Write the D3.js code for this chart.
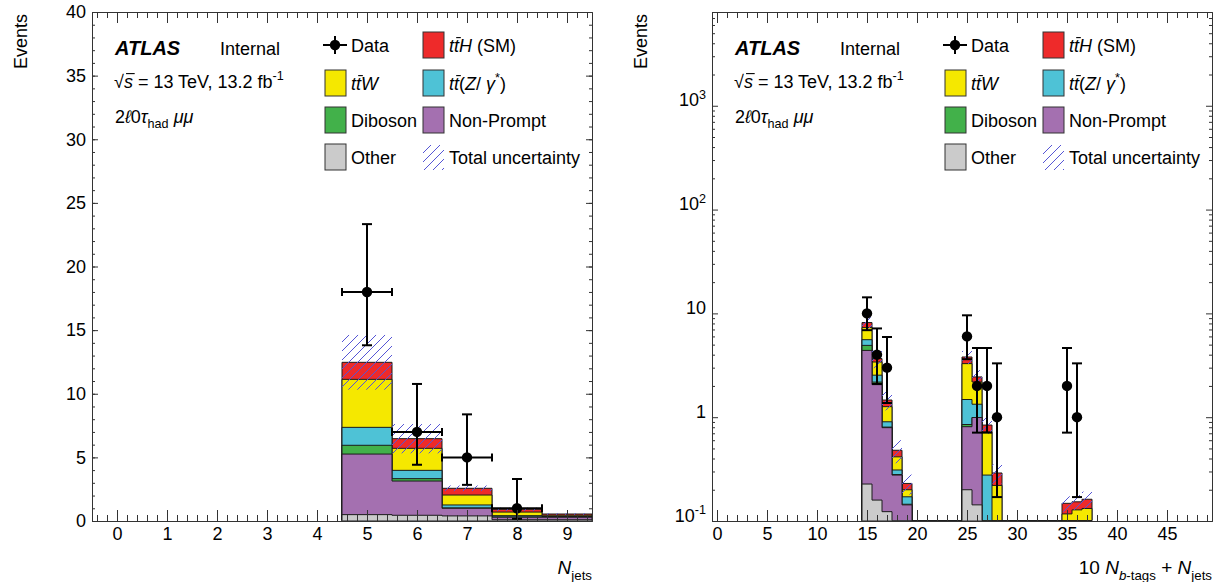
<!DOCTYPE html>
<html>
<head>
<meta charset="utf-8">
<script src="https://cdn.jsdelivr.net/npm/d3@7"></script>
<style>
  body { margin: 0; background: #fff; }
  text { font-family: "Liberation Sans", Arial, Helvetica, sans-serif; fill: #000; }
</style>
</head>
<body>
<svg id="chart" width="1221" height="582"></svg>
<script>
// ---- data ----
var layerKeys = ['other', 'nonPrompt', 'diboson', 'ttZ', 'ttW', 'ttH'];

// left: N_jets
var jetBins      = [5, 6, 7, 8, 9];
var jetOther     = [0.5, 0.45, 0.4, 0.1, 0.1];
var jetNonPrompt = [4.76, 2.69, 0.6, 0.2, 0.2];
var jetDiboson   = [0.69, 0.19, 0.03, 0.02, 0.0];
var jetTtZ       = [1.41, 0.65, 0.23, 0.1, 0.05];
var jetTtW       = [3.77, 1.73, 0.78, 0.28, 0.1];
var jetTtH       = [1.34, 0.76, 0.53, 0.22, 0.1];
var jetUnc       = [2.15, 1.15, 0.22, 0.13, 0.06];
var jetDataBins  = [5, 6, 7, 8];
var jetData      = [18, 7, 5, 1];
var jetDataLo    = [13.81, 4.42, 2.84, 0.17];
var jetDataHi    = [23.33, 10.77, 8.38, 3.30];
var jetXTicks    = [0, 1, 2, 3, 4, 5, 6, 7, 8, 9];
var jetYTicks    = [0, 5, 10, 15, 20, 25, 30, 35, 40];

// right: 10 N_btags + N_jets
var comboBins      = [15, 16, 17, 18, 19, 25, 26, 27, 28, 35, 36, 37];
var comboOther     = [0.227, 0.159, 0.123, 0.05, 0.03, 0.2, 0.143, 0.02, 0.01, 0.005, 0.005, 0.005];
var comboNonPrompt = [4.17, 1.9, 0.67, 0.227, 0.113, 0.61, 0.85, 0.03, 0.02, 0.015, 0.015, 0.015];
var comboDiboson   = [0.52, 0.12, 0.01, 0.003, 0.002, 0.04, 0, 0, 0, 0, 0, 0];
var comboTtZ       = [0.66, 0.36, 0.1, 0.03, 0.026, 0.63, 0.34, 0.227, 0.02, 0.01, 0.01, 0.01];
var comboTtW       = [1.72, 0.86, 0.36, 0.105, 0.029, 1.8, 0.85, 0.443, 0.17, 0.087, 0.098, 0.102];
var comboTtH       = [0.86, 0.27, 0.2, 0.065, 0.03, 0.52, 0.26, 0.12, 0.07, 0.031, 0.025, 0.03];
var comboUnc       = [1.0, 0.7, 0.3, 0.12, 0.05, 0.55, 0.4, 0.15, 0.06, 0.025, 0.025, 0.03];
var comboDataBins  = [15, 16, 17, 25, 26, 27, 28, 35, 36];
var comboData      = [10, 4, 3, 6, 2, 2, 1, 2, 1];
var comboDataLo    = [6.89, 2.09, 1.37, 3.62, 0.71, 0.71, 0.17, 0.71, 0.17];
var comboDataHi    = [14.27, 7.16, 5.92, 9.58, 4.64, 4.64, 3.30, 4.64, 3.30];
var comboXTicks    = [0, 5, 10, 15, 20, 25, 30, 35, 40, 45];
var logYTicks      = [0.1, 1, 10, 100, 1000];
var logYLabels     = ['10^-1', '1', '10', '10^2', '10^3'];

var colors = { other: '#cbcbcb', nonPrompt: '#a470b0', diboson: '#42b14a', ttZ: '#4ec2d6', ttW: '#f5e800', ttH: '#ee2a2a' };

var svg = d3.select('#chart');
var defs = svg.append('defs');
svg.insert('rect', 'defs').attr('width', 1221).attr('height', 582).attr('fill', '#fff');

var pat = defs.append('pattern').attr('id', 'hatch')
    .attr('patternUnits', 'userSpaceOnUse').attr('width', 9).attr('height', 9);
pat.append('path').attr('d', 'M-1,1 L1,-1 M0,9 L9,0 M8,10 L10,8')
    .attr('stroke', '#5555d5').attr('stroke-width', 1).attr('fill', 'none');

// small rich-text helper: segments [text, flags]; flags: i=italic, o=overline, sub, sup
function rich(sel, segs, size) {
    var shift = 0, idx = 0, overs = [];
    segs.forEach(function(s) {
        var f = s[1] || '';
        var target = f.indexOf('sub') >= 0 ? size * 0.3 : (f.indexOf('sup') >= 0 ? -size * 0.42 : 0);
        var ts = sel.append('tspan').text(s[0]).attr('dy', target - shift);
        shift = target;
        if (f.indexOf('i') >= 0) ts.style('font-style', 'italic');
        if (f.indexOf('sub') >= 0 || f.indexOf('sup') >= 0) ts.style('font-size', (size * 0.7) + 'px');
        if (f.indexOf('o') >= 0) overs.push({ i: idx, n: s[0].length, shift: target });
        idx += s[0].length;
    });
    // overlines (t-bar, sqrt bar) drawn by hand
    var node = sel.node(), by = +sel.attr('y');
    overs.forEach(function(o) {
        var a = node.getExtentOfChar(o.i), b = node.getExtentOfChar(o.i + o.n - 1);
        d3.select(node.parentNode).append('line')
            .attr('x1', a.x + size * 0.12).attr('x2', b.x + b.width + size * 0.1)
            .attr('y1', by + o.shift - size * 0.8).attr('y2', by + o.shift - size * 0.8)
            .attr('stroke', '#000').attr('stroke-width', 1.1);
    });
}

var plotTop = 12, plotBottom = 521;

function drawPanel(p) {
    var g = svg.append('g');
    var x = d3.scaleLinear().domain(p.xDomain).range([p.left, p.right]);
    var y = (p.log ? d3.scaleLog() : d3.scaleLinear()).domain(p.yDomain).range([plotBottom, plotTop]).clamp(true);
    var ymin = p.yDomain[0];
    var yv = function(v) { return y(Math.max(v, ymin)); };

    defs.append('clipPath').attr('id', p.id + '-clip').append('rect')
        .attr('x', p.left).attr('y', plotTop).attr('width', p.right - p.left).attr('height', plotBottom - plotTop - 0.6);
    var plot = g.append('g').attr('clip-path', 'url(#' + p.id + '-clip)');

    // table for d3.stack (empty bins between groups, one closing bin at the end)
    var rows = d3.range(d3.min(p.bins), d3.max(p.bins) + 2).map(function(b) {
        var r = { bin: b };
        var i = p.bins.indexOf(b);
        layerKeys.forEach(function(k, j) { r[k] = i < 0 ? 0 : p.layers[j][i]; });
        return r;
    });
    var series = d3.stack().keys(layerKeys)(rows);
    var area = d3.area().curve(d3.curveStepAfter)
        .x(function(d) { return x(d.data.bin - 0.5); })
        .y0(plotBottom)
        .y1(function(d) { return yv(d[1]); });

    series.slice().reverse().forEach(function(s) {
        plot.append('path').attr('d', area(s))
            .attr('fill', colors[s.key]).attr('stroke', '#1b1b1b').attr('stroke-width', 1)
            .attr('stroke-linejoin', 'bevel');
    });

    // total uncertainty band
    p.bins.forEach(function(b, i) {
        var tot = d3.sum(p.layers, function(l) { return l[i]; });
        var u = p.unc[i];
        plot.append('rect')
            .attr('x', x(b - 0.5)).attr('width', x(b + 0.5) - x(b - 0.5))
            .attr('y', yv(tot + u)).attr('height', yv(tot - u) - yv(tot + u))
            .attr('fill', 'url(#hatch)');
    });

    // data points
    var dg = g.append('g').attr('stroke', '#000').attr('stroke-width', 2);
    p.dataBins.forEach(function(b, i) {
        var cx = x(b), cy = yv(p.data[i]);
        var yl = yv(p.dataLo[i]), yh = yv(p.dataHi[i]);
        var xl = x(b - 0.5), xh = x(b + 0.5);
        dg.append('line').attr('x1', cx).attr('x2', cx).attr('y1', yl).attr('y2', yh);
        dg.append('line').attr('x1', cx - 5).attr('x2', cx + 5).attr('y1', yl).attr('y2', yl);
        dg.append('line').attr('x1', cx - 5).attr('x2', cx + 5).attr('y1', yh).attr('y2', yh);
        dg.append('line').attr('x1', xl).attr('x2', xh).attr('y1', cy).attr('y2', cy);
        if (xh - xl > 20) {
            dg.append('line').attr('x1', xl).attr('x2', xl).attr('y1', cy - 4).attr('y2', cy + 4);
            dg.append('line').attr('x1', xh).attr('x2', xh).attr('y1', cy - 4).attr('y2', cy + 4);
        }
        dg.append('circle').attr('cx', cx).attr('cy', cy).attr('r', 5.2).attr('fill', '#000').attr('stroke', 'none');
    });

    // axes (ticks inward on all four sides)
    function styleAxis(a) {
        a.attr('font-family', null).attr('font-size', null);
        a.selectAll('path, line').attr('stroke', '#333');
        a.selectAll('text').style('font-size', '18px');
    }
    var ax = g.append('g');
    ax.append('g').attr('transform', 'translate(0,' + plotBottom + ')')
        .call(d3.axisBottom(x).tickValues(p.xMinor).tickSize(-6).tickSizeOuter(0).tickFormat('')).call(styleAxis);
    ax.append('g').attr('transform', 'translate(0,' + plotBottom + ')')
        .call(d3.axisBottom(x).tickValues(p.xTicks).tickSize(-11).tickSizeOuter(0).tickPadding(6)).call(styleAxis);
    ax.append('g').attr('transform', 'translate(0,' + plotTop + ')')
        .call(d3.axisTop(x).tickValues(p.xMinor).tickSize(-6).tickSizeOuter(0).tickFormat('')).call(styleAxis);
    ax.append('g').attr('transform', 'translate(0,' + plotTop + ')')
        .call(d3.axisTop(x).tickValues(p.xTicks).tickSize(-11).tickSizeOuter(0).tickFormat('')).call(styleAxis);

    ax.append('g').attr('transform', 'translate(' + p.left + ',0)')
        .call(d3.axisLeft(y).tickValues(p.yMinor).tickSize(-3).tickSizeOuter(0).tickFormat('')).call(styleAxis);
    var yl = ax.append('g').attr('transform', 'translate(' + p.left + ',0)')
        .call(d3.axisLeft(y).tickValues(p.yTicks).tickSize(-6).tickSizeOuter(0).tickPadding(6)).call(styleAxis);
    ax.append('g').attr('transform', 'translate(' + p.right + ',0)')
        .call(d3.axisRight(y).tickValues(p.yMinor).tickSize(-3).tickSizeOuter(0).tickFormat('')).call(styleAxis);
    ax.append('g').attr('transform', 'translate(' + p.right + ',0)')
        .call(d3.axisRight(y).tickValues(p.yTicks).tickSize(-6).tickSizeOuter(0).tickFormat('')).call(styleAxis);

    if (p.yLabels) {
        yl.selectAll('.tick text').each(function(d, i) {
            var t = d3.select(this).text('');
            var parts = p.yLabels[i].split('^');
            var segs = [[parts[0]]];
            if (parts[1]) segs.push([parts[1], 'sup']);
            rich(t, segs, 18);
        });
    }

    // axis titles
    g.append('text').attr('transform', 'translate(' + (p.left - 65) + ',14) rotate(-90)')
        .attr('text-anchor', 'end').style('font-size', '18px').text('Events');
    rich(g.append('text').attr('x', p.right).attr('y', 574).attr('text-anchor', 'end').style('font-size', '19px'),
        p.xTitle, 19);

    // labels and legend
    var dx = p.left - 92;
    g.append('text').attr('x', 115 + dx).attr('y', 55)
        .style('font-size', '20px').style('font-weight', 'bold').style('font-style', 'italic').text('ATLAS');
    g.append('text').attr('x', 220 + dx).attr('y', 55).style('font-size', '18px').text('Internal');
    rich(g.append('text').attr('x', 114 + dx).attr('y', 88).style('font-size', '18px'),
        [['√'], ['s', 'io'], [' = 13 TeV, 13.2 fb'], ['-1', 'sup']], 18);
    rich(g.append('text').attr('x', 115 + dx).attr('y', 123).style('font-size', '18px'),
        [['2'], ['ℓ', 'i'], ['0'], ['τ', 'i'], ['had', 'sub'], [' '], ['μμ', 'i']], 18);

    var rowsY = [45, 83, 120, 157];
    var cols = [325 + dx, 423 + dx];
    var leg = g.append('g');
    legendEntries.forEach(function(e) {
        var cx = cols[e.col], cy = rowsY[e.row];
        if (e.key === 'data') {
            leg.append('line').attr('x1', cx - 2).attr('x2', cx + 22).attr('y1', cy).attr('y2', cy).attr('stroke', '#000').attr('stroke-width', 2);
            leg.append('line').attr('x1', cx + 10).attr('x2', cx + 10).attr('y1', cy - 9).attr('y2', cy + 9).attr('stroke', '#000').attr('stroke-width', 2);
            leg.append('circle').attr('cx', cx + 10).attr('cy', cy).attr('r', 5.2).attr('fill', '#000');
        } else if (e.key === 'unc') {
            leg.append('rect').attr('x', cx).attr('y', cy - 12).attr('width', 21).attr('height', 25).attr('fill', 'url(#hatch)');
        } else {
            leg.append('rect').attr('x', cx).attr('y', cy - 13).attr('width', 21).attr('height', 26)
                .attr('fill', colors[e.key]).attr('stroke', '#333').attr('stroke-width', 1);
        }
        rich(leg.append('text').attr('x', cx + 26).attr('y', cy + 7).style('font-size', '18px'), e.label, 18);
    });
}

var legendEntries = [
    { key: 'data', col: 0, row: 0, label: [['Data']] },
    { key: 'ttH', col: 1, row: 0, label: [['t', 'i'], ['t', 'io'], ['H', 'i'], [' (SM)']] },
    { key: 'ttW', col: 0, row: 1, label: [['t', 'i'], ['t', 'io'], ['W', 'i']] },
    { key: 'ttZ', col: 1, row: 1, label: [['t', 'i'], ['t', 'io'], ['('], ['Z', 'i'], ['/ '], ['γ', 'i'], ['*', 'sup'], [')']] },
    { key: 'diboson', col: 0, row: 2, label: [['Diboson']] },
    { key: 'nonPrompt', col: 1, row: 2, label: [['Non-Prompt']] },
    { key: 'other', col: 0, row: 3, label: [['Other']] },
    { key: 'unc', col: 1, row: 3, label: [['Total uncertainty']] }
];

drawPanel({
    id: 'jets', left: 92, right: 592, log: false,
    xDomain: [-0.5, 9.5], yDomain: [0, 40],
    xTicks: jetXTicks, xMinor: d3.range(-0.4, 9.5, 0.2),
    yTicks: jetYTicks, yMinor: d3.range(0, 41, 1),
    bins: jetBins,
    layers: [jetOther, jetNonPrompt, jetDiboson, jetTtZ, jetTtW, jetTtH],
    unc: jetUnc,
    dataBins: jetDataBins, data: jetData, dataLo: jetDataLo, dataHi: jetDataHi,
    xTitle: [['N', 'i'], ['jets', 'sub']]
});

var logMinor = [];
[0.1, 1, 10, 100, 1000].forEach(function(dec) {
    d3.range(2, 10).forEach(function(m) { if (m * dec <= 8000) logMinor.push(m * dec); });
});

drawPanel({
    id: 'combo', left: 712, right: 1212, log: true,
    xDomain: [-0.5, 49.5], yDomain: [0.1, 8000],
    xTicks: comboXTicks, xMinor: d3.range(0, 50, 1),
    yTicks: logYTicks, yMinor: logMinor, yLabels: logYLabels,
    bins: comboBins,
    layers: [comboOther, comboNonPrompt, comboDiboson, comboTtZ, comboTtW, comboTtH],
    unc: comboUnc,
    dataBins: comboDataBins, data: comboData, dataLo: comboDataLo, dataHi: comboDataHi,
    xTitle: [['10 '], ['N', 'i'], ['b', 'isub'], ['-tags', 'sub'], [' + ', ''], ['N', 'i'], ['jets', 'sub']]
});
</script>
</body>
</html>
